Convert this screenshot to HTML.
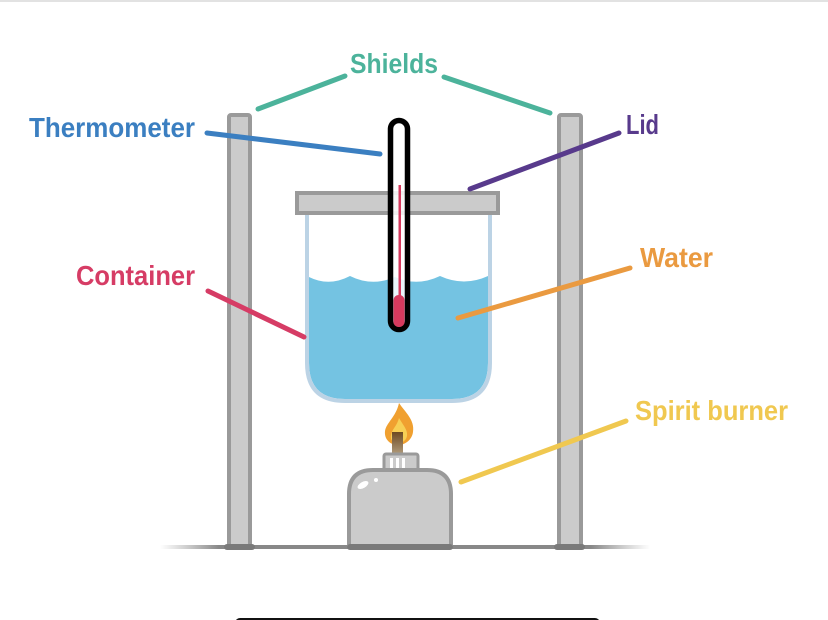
<!DOCTYPE html>
<html><head><meta charset="utf-8"><style>
html,body{margin:0;padding:0;background:#fff;}
svg{display:block;}
text{font-family:"Liberation Sans",sans-serif;font-weight:bold;}
</style></head><body>
<svg width="828" height="620" viewBox="0 0 828 620" xmlns="http://www.w3.org/2000/svg">
<defs>
<linearGradient id="base" x1="0" x2="1" y1="0" y2="0">
<stop offset="0" stop-color="#999" stop-opacity="0"/>
<stop offset="0.12" stop-color="#888"/>
<stop offset="0.88" stop-color="#888"/>
<stop offset="1" stop-color="#999" stop-opacity="0"/>
</linearGradient>
<linearGradient id="wick" x1="0" x2="0" y1="0" y2="1">
<stop offset="0" stop-color="#6e4a22"/>
<stop offset="1" stop-color="#b09a7a"/>
</linearGradient>
</defs>
<rect x="0" y="0" width="828" height="2" fill="#e2e2e2"/>
<!-- base -->
<rect x="160" y="545" width="490" height="4" fill="url(#base)"/>
<!-- posts -->
<rect x="229" y="115" width="21" height="431" rx="2" fill="#cbcbcb" stroke="#9a9a9a" stroke-width="4"/>
<rect x="559" y="115" width="22" height="431" rx="2" fill="#cbcbcb" stroke="#9a9a9a" stroke-width="4"/>
<rect x="224" y="544" width="31" height="6" rx="3" fill="#7a7a7a"/>
<rect x="554" y="544" width="31" height="6" rx="3" fill="#7a7a7a"/>
<!-- water -->
<path d="M309,277 Q329,287 350,276 Q372,287 395,277 Q417,287 440,276 Q464,287 488,276 V363 Q488,399 452,399 H345 Q309,399 309,363 Z" fill="#74c3e2"/>
<!-- container -->
<path d="M307,215 V363 Q307,401 345,401 H452 Q490,401 490,363 V215" fill="none" stroke="#bcd3e5" stroke-width="4"/>
<!-- lid -->
<rect x="297" y="193" width="201" height="20" fill="#cbcbcb" stroke="#9a9a9a" stroke-width="4"/>
<!-- thermometer -->
<rect x="390.5" y="120.5" width="17" height="209" rx="8.5" fill="#fff" fill-opacity="0.85" stroke="#000" stroke-width="5.5"/>
<rect x="398.5" y="185" width="2.5" height="115" fill="#d63a5e"/>
<rect x="393.5" y="295" width="11" height="32" rx="5" fill="#d63a5e"/>
<!-- flame -->
<path d="M399,403 C405,412 415,420 413,432 C412,440 405,445 398,445 C391,445 384,440 385,431 C386,423 396,417 399,403 Z" fill="#f0a030"/>
<path d="M399,418 C403,425 408,430 407,436 C406,441 402,443 398,443 C393,443 390,440 391,435 C392,429 397,426 399,418 Z" fill="#f7cf55"/>
<rect x="392" y="432" width="11" height="22" fill="url(#wick)"/>
<!-- burner cap -->
<rect x="384" y="454" width="34" height="17" rx="2" fill="#cbcbcb" stroke="#9a9a9a" stroke-width="3"/>
<rect x="390" y="458" width="3" height="10" fill="#fff"/>
<rect x="396" y="458" width="3" height="10" fill="#fff"/>
<rect x="402" y="458" width="3" height="10" fill="#fff"/>
<!-- burner body -->
<path d="M349,546 V494 Q349,470 373,470 H427 Q451,470 451,494 V546 Z" fill="#cbcbcb" stroke="#9a9a9a" stroke-width="4"/>
<ellipse cx="363" cy="485" rx="6" ry="3" transform="rotate(-30 363 485)" fill="#fff"/>
<circle cx="376" cy="480" r="2" fill="#fff"/>
<rect x="347" y="544" width="106" height="6" rx="3" fill="#7a7a7a"/>
<!-- connectors -->
<g fill="none" stroke-width="5" stroke-linecap="round">
<path d="M258,109 L345,76" stroke="#4cb39b"/>
<path d="M444,77 L550,113" stroke="#4cb39b"/>
<path d="M207,133 L380,154" stroke="#3b7fc1"/>
<path d="M619,133 L470,189" stroke="#583a8c"/>
<path d="M208,291 L304,337" stroke="#d63c65"/>
<path d="M630,268 L458,318" stroke="#ea9a40"/>
<path d="M626,421 L461,482" stroke="#f0c850"/>
</g>
<!-- labels -->
<text x="350" y="73" font-size="28" fill="#4cb39b" textLength="88" lengthAdjust="spacingAndGlyphs">Shields</text>
<text x="29" y="137" font-size="28" fill="#3b7fc1" textLength="166" lengthAdjust="spacingAndGlyphs">Thermometer</text>
<text x="626" y="134" font-size="28" fill="#583a8c" textLength="33" lengthAdjust="spacingAndGlyphs">Lid</text>
<text x="76" y="285" font-size="28" fill="#d63c65" textLength="119" lengthAdjust="spacingAndGlyphs">Container</text>
<text x="640" y="267" font-size="28" fill="#ea9a40" textLength="73" lengthAdjust="spacingAndGlyphs">Water</text>
<text x="635" y="420" font-size="28" fill="#f0c850" textLength="153" lengthAdjust="spacingAndGlyphs">Spirit burner</text>
<!-- bottom bar -->
<rect x="235" y="618" width="365" height="10" rx="5" fill="#111"/>
</svg>
</body></html>
